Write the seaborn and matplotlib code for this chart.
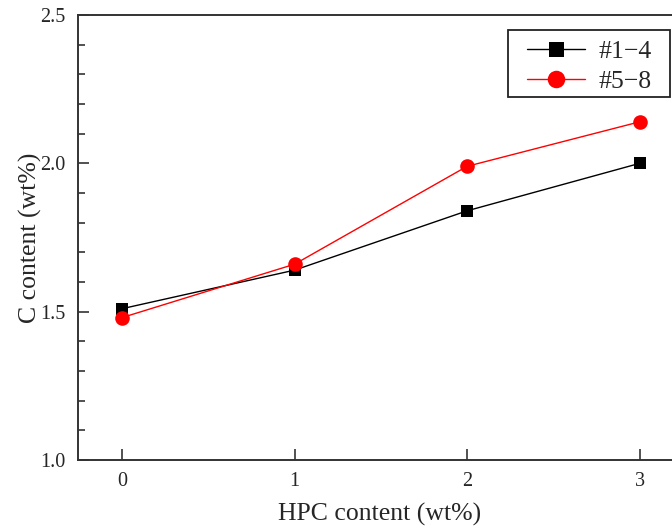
import matplotlib
matplotlib.use("Agg")
import matplotlib.pyplot as plt
import seaborn as sns
import pandas as pd
from matplotlib.ticker import MultipleLocator
from matplotlib.patches import Rectangle

hpc = [0, 1, 2, 3]
s1_vals = [1.51, 1.64, 1.84, 2.00]
s2_vals = [1.48, 1.66, 1.99, 2.14]
labels = ["#1\u22124", "#5\u22128"]

sns.set_style("ticks")
plt.rcParams['font.family'] = ['Liberation Serif', 'DejaVu Serif']

W, H = 672, 529
fig = plt.figure(figsize=(6.72, 5.29), dpi=100)
ax = fig.add_axes([78/W, 69/H, 604/W, 445/H])

df1 = pd.DataFrame({"x": hpc, "y": s1_vals})
df2 = pd.DataFrame({"x": hpc, "y": s2_vals})
sns.lineplot(data=df1, x="x", y="y", ax=ax, color="black", marker="s", markersize=9,
             markeredgewidth=0, linewidth=1.0, label=labels[0])
sns.lineplot(data=df2, x="x", y="y", ax=ax, color="#ff0000", marker="o", markersize=10.5,
             markeredgewidth=0, linewidth=1.0, label=labels[1])

ax.set_xlim(-0.255, 3.245)
ax.set_ylim(1.0, 2.5)
ax.set_xticks(hpc)
ax.set_yticks([1.0, 1.5, 2.0, 2.5])
ax.yaxis.set_minor_locator(MultipleLocator(0.1))
ax.tick_params(axis='both', which='major', direction='in', length=8, width=1.2,
               labelsize=14.5, color='#333333', pad=9)
ax.tick_params(axis='y', which='minor', direction='in', length=5, width=1.2, color='#333333')
ax.tick_params(axis='x', which='minor', bottom=False)
for sp in ax.spines.values():
    sp.set_linewidth(1.4)
    sp.set_color('#333333')

ax.set_xlabel("HPC content (wt%)", fontsize=18.5, labelpad=8)
ax.set_ylabel("C content (wt%)", fontsize=18.5, labelpad=-1)

leg = ax.legend(loc='upper left', fontsize=18.5, frameon=False,
                handlelength=2.25, borderpad=0, labelspacing=0.27,
                handletextpad=0.55, borderaxespad=0, markerscale=1.2)
leg.set_bbox_to_anchor((527 / W, 1 - 40.5 / H), transform=fig.transFigure)

frame = Rectangle((508 / W, 1 - 97 / H), 162 / W, 67 / H, transform=fig.transFigure,
                  fill=False, edgecolor='#222222', linewidth=1.3, clip_on=False)
fig.patches.append(frame)

fig.savefig("out.png", dpi=100)
